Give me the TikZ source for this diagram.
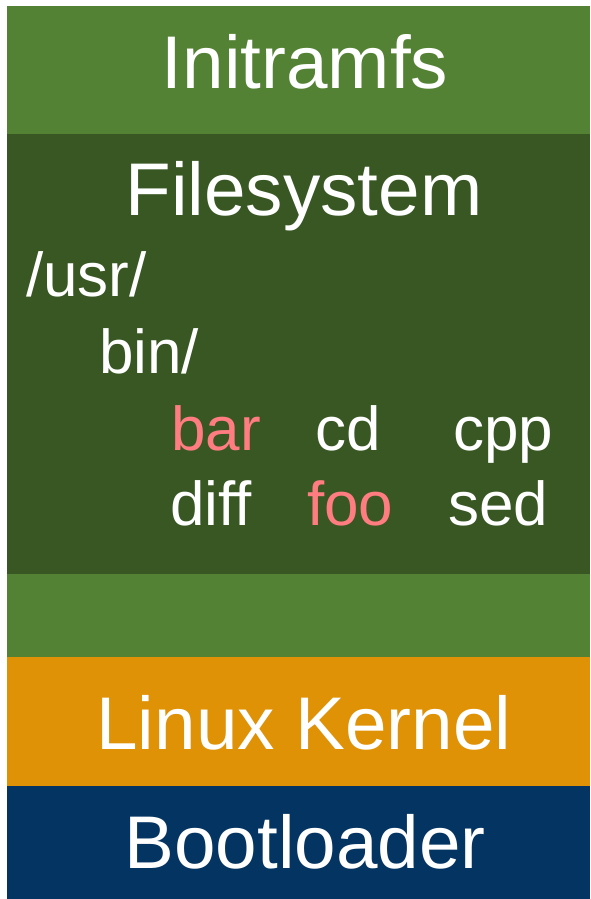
\documentclass[tikz,border=0pt]{standalone}
\usepackage{fontspec}
\setmainfont{Liberation Sans}
\definecolor{lgreen}{HTML}{548235}
\definecolor{dgreen}{HTML}{385723}
\definecolor{korange}{HTML}{DF9205}
\definecolor{bblue}{HTML}{043462}
\definecolor{pinkred}{HTML}{FF7C80}
\begin{document}
\begin{tikzpicture}[x=0.75pt,y=-0.75pt,
  title/.style={text=white,font=\fontsize{56}{60}\selectfont,anchor=base,inner sep=0pt},
  item/.style={text=white,font=\fontsize{46.5}{50}\selectfont,anchor=base west,inner sep=0pt},
  hl/.style={text=pinkred}]
\useasboundingbox (0,0) rectangle (590,899);
\fill[lgreen] (7,6) rectangle (590,134);
\fill[dgreen] (7,134) rectangle (590,574);
\fill[lgreen] (7,574) rectangle (590,657);
\fill[korange] (7,657) rectangle (590,786);
\fill[bblue] (7,786) rectangle (590,899);
\node[title] (initramfs) at (305,89) {Initramfs};
\node[title] (filesystem) at (304,215) {Filesystem};
\node[title] (kernel) at (304,749) {Linux Kernel};
\node[title] (boot) at (305,868) {Bootloader};
\node[item] (usr) at (26,296) {/usr/};
\node[item] (bin) at (99,373) {bin/};
\node[item,hl] (bar) at (171,450) {bar};
\node[item] (cd) at (315,450) {cd};
\node[item] (cpp) at (453,450) {cpp};
\node[item] (diff) at (170,525) {diff};
\node[item,hl] (foo) at (307,525) {foo};
\node[item] (sed) at (448,525) {sed};
\end{tikzpicture}
\end{document}
